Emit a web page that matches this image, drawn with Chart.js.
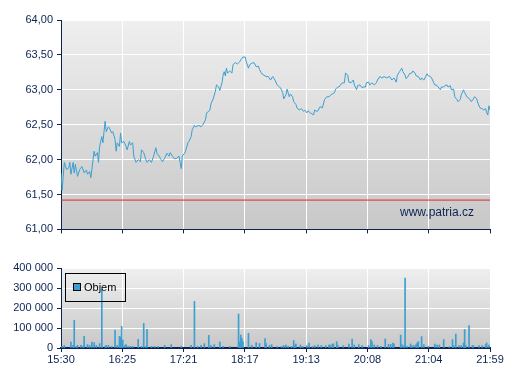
<!DOCTYPE html>
<html><head><meta charset="utf-8">
<script src="https://cdn.jsdelivr.net/npm/chart.js@4.4.1/dist/chart.umd.min.js"></script>
<style>
body{margin:0;background:#fff;width:507px;height:380px;overflow:hidden;position:relative}
canvas{position:absolute;left:0}
</style></head>
<body>
<canvas id="c1" width="507" height="240" style="top:0"></canvas>
<canvas id="c2" width="507" height="125" style="top:255px"></canvas>
<script>
// ---- data (minutes after 15:30) ----
const xTickLabels = ['15:30','16:25','17:21','18:17','19:13','20:08','21:04','21:59'];
const sessionMinutes = 389;
const priceTicks = [61, 61.5, 62, 62.5, 63, 63.5, 64];
const priceTickLabels = ['61,00','61,50','62,00','62,50','63,00','63,50','64,00'];
const volumeTicks = [0, 100000, 200000, 300000, 400000];
const volumeTickLabels = ['0','100 000','200 000','300 000','400 000'];
const prevClose = 61.42;
const watermark = 'www.patria.cz';
const volumeLabel = 'Objem';

const priceMinutes = [
0,1,2,3,5,7,8,9,11,12,
13,15,17,19,21,23,24,26,27,28,
30,31,33,34,35,37,38,39,40,41,
43,44,46,47,49,50,51,53,54,55,
57,59,60,62,63,65,66,68,70,72,
73,75,77,78,80,82,84,86,87,89,
90,92,94,96,98,99,101,103,105,107,
108,109,110,112,113,115,116,118,119,121,
122,125,127,129,131,132,134,135,136,138,
140,141,143,144,146,147,148,149,150,151,
153,155,156,158,160,162,163,165,166,167,
168,170,171,173,175,177,179,180,182,184,
186,188,190,192,194,196,198,199,201,202,
204,205,207,208,210,211,213,214,216,218,
220,221,223,224,226,229,230,232,233,235,
237,239,241,243,245,248,249,251,252,255,
257,258,260,261,263,265,266,268,269,271,
273,274,276,277,279,280,282,284,286,287,
289,291,293,295,298,300,302,304,305,307,
309,310,312,313,315,316,318,319,321,322,
324,326,327,329,330,332,333,335,336,338,
339,341,342,344,345,347,348,350,351,353,
354,356,357,359,360,362,363,365,366,368,
369,371,372,374,375,377,378,380,382,383,
385,386,387,388,389];
const priceValues = [
61.81,61.56,61.76,61.96,61.86,61.88,61.96,61.79,61.96,61.81,
61.93,61.76,61.86,61.90,61.81,61.85,61.79,61.83,61.74,61.86,
62.12,62.05,62.10,61.96,62.19,62.33,62.24,62.40,62.55,62.40,
62.47,62.45,62.38,62.40,62.29,62.12,62.24,62.19,62.38,62.24,
62.26,62.19,62.14,62.26,62.21,62.24,62.05,61.96,62.00,61.97,
62.14,62.10,62.00,61.96,62.00,61.96,62.05,62.17,62.09,62.05,
62.02,61.97,62.02,62.09,62.05,62.10,62.05,62.01,62.02,62.05,
61.96,61.87,62.05,62.09,62.12,62.24,62.26,62.33,62.43,62.49,
62.47,62.49,62.47,62.51,62.57,62.67,62.69,62.71,62.80,62.87,
62.98,63.07,63.04,62.99,63.10,63.21,63.26,63.20,63.31,63.24,
63.27,63.24,63.36,63.39,63.37,63.40,63.43,63.47,63.47,63.47,
63.40,63.31,63.36,63.38,63.39,63.33,63.34,63.29,63.23,63.21,
63.19,63.19,63.14,63.19,63.14,63.07,63.04,63.03,62.96,62.87,
62.93,63.01,62.90,62.94,62.90,62.83,62.79,62.74,62.71,62.73,
62.69,62.71,62.67,62.70,62.67,62.64,62.71,62.69,62.70,62.76,
62.74,62.86,62.90,62.90,62.93,62.96,63.01,63.04,63.04,63.10,
63.10,63.24,63.21,63.11,63.10,63.14,63.07,63.00,63.06,63.07,
63.03,63.04,63.04,63.10,63.11,63.07,63.10,63.07,63.10,63.14,
63.19,63.17,63.19,63.17,63.19,63.14,63.17,63.11,63.21,63.26,
63.31,63.26,63.21,63.16,63.20,63.23,63.24,63.27,63.24,63.20,
63.19,63.14,63.17,63.14,63.17,63.23,63.20,63.19,63.17,63.10,
63.07,63.06,63.04,63.00,63.04,63.04,63.06,63.07,63.04,63.06,
63.00,63.01,62.90,62.86,62.83,62.86,62.93,63.00,62.96,62.90,
62.89,62.86,62.83,62.87,62.90,62.87,62.81,62.74,62.73,62.71,
62.73,62.67,62.64,62.77,62.71];

const volumeMinutes = [
1,3,9,11,12,14,15,18,20,21,24,26,28,30,32,35,37,40,41,43,
46,49,51,53,54,55,56,58,59,61,63,65,70,73,75,77,78,82,85,88,
94,100,109,118,121,124,127,130,134,136,139,144,147,153,161,162,163,164,165,170,
173,177,180,185,186,189,191,196,200,202,204,206,209,211,212,213,217,219,223,225,
228,230,233,236,240,243,244,246,247,250,251,256,261,264,266,270,273,279,281,282,
284,287,290,294,297,299,301,302,308,309,311,312,314,317,318,320,322,323,324,327,
329,333,339,341,343,347,352,355,356,358,361,363,365,366,367,370,373,374,379,382,
385,386,388];
const volumeValues = [
8000,13000,30000,13000,138000,8000,13000,13000,10000,58000,17000,13000,30000,27000,13000,22000,293000,8000,13000,13000,
8000,88000,13000,58000,55000,108000,40000,13000,17000,8000,8000,8000,43000,8000,123000,8000,93000,8000,8000,8000,
13000,17000,8000,13000,233000,8000,13000,22000,63000,13000,17000,30000,8000,8000,170000,30000,65000,48000,32000,73000,
13000,27000,22000,47000,22000,13000,17000,7000,8000,12000,15000,8000,8000,37000,12000,20000,15000,8000,12000,25000,
7000,12000,15000,12000,12000,15000,15000,20000,20000,32000,12000,12000,20000,45000,15000,17000,12000,12000,42000,32000,
15000,12000,8000,45000,18000,18000,25000,20000,65000,17000,12000,350000,8000,20000,12000,12000,17000,25000,32000,57000,
17000,8000,20000,15000,15000,42000,7000,42000,12000,70000,12000,12000,25000,92000,12000,112000,12000,12000,12000,12000,
17000,25000,15000];

// ---- styling ----
const NAVY = '#0c2352';
const LINE_BLUE = '#3c9fd1';
const FONT = {family: "'Liberation Sans', Arial, sans-serif", size: 11};

const bgPlugin = {
  id: 'bg',
  beforeDraw(c) {
    const a = c.chartArea, ctx = c.ctx;
    const g = ctx.createLinearGradient(0, a.top, 0, a.bottom);
    g.addColorStop(0, '#efefef');
    g.addColorStop(1, '#c8c8c8');
    ctx.save();
    ctx.fillStyle = g;
    ctx.fillRect(a.left, a.top, a.right - a.left, a.bottom - a.top);
    ctx.restore();
  }
};

const watermarkPlugin = {
  id: 'wm',
  afterDatasetsDraw(c) {
    const ctx = c.ctx, a = c.chartArea;
    ctx.save();
    ctx.fillStyle = NAVY;
    ctx.font = "12px 'Liberation Sans', Arial, sans-serif";
    ctx.textAlign = 'right';
    ctx.textBaseline = 'middle';
    ctx.fillText(watermark, a.right - 16, a.bottom - 17);
    ctx.restore();
  }
};

const legendPlugin = {
  id: 'lg',
  afterDraw(c) {
    const ctx = c.ctx, a = c.chartArea;
    const x0 = a.left + 4, y0 = a.top + 5;
    ctx.save();
    ctx.strokeStyle = '#000';
    ctx.lineWidth = 1;
    ctx.strokeRect(x0 + 0.5, y0 + 0.5, 60, 28);
    ctx.fillStyle = LINE_BLUE;
    ctx.fillRect(x0 + 8, y0 + 11, 7, 7);
    ctx.strokeRect(x0 + 8.5, y0 + 10.5, 7, 7);
    ctx.fillStyle = '#000';
    ctx.font = "11px 'Liberation Sans', Arial, sans-serif";
    ctx.textBaseline = 'middle';
    ctx.fillText(volumeLabel, x0 + 19, y0 + 15);
    ctx.restore();
  }
};

const xTicksBuild = s => { s.ticks = xTickLabels.map((l, i) => ({value: i * sessionMinutes / 7})); };

new Chart(document.getElementById('c1'), {
  type: 'line',
  data: {datasets: [
    {data: priceMinutes.map((m, i) => ({x: m, y: priceValues[i]})), borderColor: LINE_BLUE, borderWidth: 1, pointRadius: 0, tension: 0},
    {data: [{x: 0, y: prevClose}, {x: sessionMinutes, y: prevClose}], borderColor: '#e2262b', borderWidth: 1, pointRadius: 0}
  ]},
  options: {
    responsive: false, animation: false, devicePixelRatio: 1,
    layout: {padding: {left: 0, right: 17, top: 20, bottom: 0}},
    plugins: {legend: {display: false}, tooltip: {enabled: false}},
    scales: {
      x: {type: 'linear', min: 0, max: sessionMinutes, afterBuildTicks: xTicksBuild,
          ticks: {callback: () => '', font: FONT, padding: 0},
          afterFit: s => { s.height = 10; },
          grid: {color: '#ffffff', lineWidth: 1, tickColor: NAVY, tickLength: 4},
          border: {color: NAVY, width: 1}},
      y: {min: 61, max: 64,
          afterBuildTicks: s => { s.ticks = priceTicks.map(v => ({value: v})); },
          ticks: {callback: (v, i) => priceTickLabels[i], color: NAVY, font: FONT, padding: 4},
          afterFit: s => { s.width = 61; },
          grid: {color: '#ffffff', lineWidth: 1, tickColor: NAVY, tickLength: 4},
          border: {color: NAVY, width: 1}}
    }
  },
  plugins: [bgPlugin, watermarkPlugin]
});

new Chart(document.getElementById('c2'), {
  type: 'bar',
  data: {datasets: [
    {data: volumeMinutes.map((m, i) => ({x: m, y: volumeValues[i]})), backgroundColor: LINE_BLUE, borderWidth: 0, barThickness: 1}
  ]},
  options: {
    responsive: false, animation: false, devicePixelRatio: 1,
    layout: {padding: {left: 0, right: 17, top: 13, bottom: 0}},
    plugins: {legend: {display: false}, tooltip: {enabled: false}},
    scales: {
      x: {type: 'linear', offset: false, min: 0, max: sessionMinutes, afterBuildTicks: xTicksBuild,
          ticks: {callback: (v, i) => xTickLabels[i], color: NAVY, font: FONT, padding: 1, maxRotation: 0, autoSkip: false},
          afterFit: s => { s.height = 32; },
          grid: {offset: false, color: '#ffffff', lineWidth: 1, tickColor: NAVY, tickLength: 4},
          border: {color: NAVY, width: 2}},
      y: {min: 0, max: 400000,
          afterBuildTicks: s => { s.ticks = volumeTicks.map(v => ({value: v})); },
          ticks: {callback: (v, i) => volumeTickLabels[i], color: NAVY, font: FONT, padding: 4},
          afterFit: s => { s.width = 61; },
          grid: {color: '#ffffff', lineWidth: 1, tickColor: NAVY, tickLength: 4},
          border: {color: NAVY, width: 1}}
    }
  },
  plugins: [bgPlugin, legendPlugin]
});
</script>
</body></html>
